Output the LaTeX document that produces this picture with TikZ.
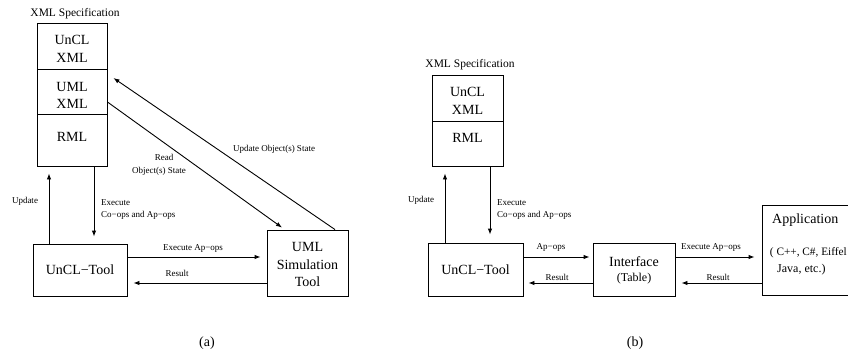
\documentclass[tikz,border=0pt]{standalone}
\usepackage{fontspec}
\setmainfont{Liberation Serif}
\usetikzlibrary{arrows.meta}
\begin{document}
\begin{tikzpicture}[x=1pt,y=-1pt,
  box/.style={draw,line width=0.9pt,rectangle,inner sep=0pt},
  big/.style={font=\fontsize{14}{17.5}\selectfont,align=center,inner sep=0pt},
  mid/.style={font=\fontsize{11.5}{14}\selectfont,inner sep=0pt},
  med/.style={font=\fontsize{12}{14}\selectfont,inner sep=0pt},
  lbl/.style={font=\fontsize{9}{11}\selectfont,inner sep=0pt},
  arr/.style={line width=0.9pt,-{Latex[length=6pt,width=4.5pt]}},
  ln/.style={line width=0.9pt}]
\clip (0,0) rectangle (848,353);
% ---------------- (a) ----------------
\node[mid] (xmla) at (75,14) {XML Specification};
\node[box,minimum width=70,minimum height=46] (uncla) at (72,46) {};
\node[box,minimum width=70,minimum height=45] (umla) at (72,91.5) {};
\node[box,minimum width=70,minimum height=52] (rmla) at (72,140) {};
\node[big] (uncltxta) at (72,49) {UnCL\\XML};
\node[big] (umltxta) at (72,95.5) {UML\\XML};
\node[big] (rmltxta) at (72,137) {RML};
\node[box,minimum width=94,minimum height=52] (toola) at (80,270) {};
\node[big] (tooltxta) at (80,270) {UnCL−Tool};
\node[box,minimum width=81,minimum height=66] (sima) at (307.5,263) {};
\node[big] (simtxta) at (307.5,264.5) {UML\\Simulation\\Tool};
% connectors
\draw[arr] ([xshift=-31pt]toola.north) -- ([xshift=-23pt,yshift=-7pt]rmla.south);
\draw[arr] ([xshift=22pt]rmla.south) -- ([xshift=14pt,yshift=7pt]toola.north);
\draw[arr] ([yshift=13pt]toola.east) -- ([xshift=-6pt,yshift=6pt]sima.west);
\draw[arr] ([yshift=-20pt]sima.west) -- ([xshift=6pt,yshift=-13pt]toola.east);
\draw[arr] ([yshift=-10.5pt]umla.east) -- ([xshift=-25.5pt,yshift=2pt]sima.north);
\draw[arr] ([xshift=27.5pt]sima.north) -- ([xshift=6pt,yshift=13.5pt]umla.east);
% labels
\node[lbl] (lupda) at (25,201) {Update};
\node[lbl,anchor=west] (lexea) at (101,203) {Execute};
\node[lbl,anchor=west] (lcoa) at (101,215) {Co−ops and Ap−ops};
\node[lbl] (lreada) at (164,157) {Read};
\node[lbl] (lobja) at (159,171) {Object(s) State};
\node[lbl] (luobja) at (274,149) {Update Object(s) State};
\node[lbl] (lexapa) at (193,248) {Execute Ap−ops};
\node[lbl] (lresa) at (177,273) {Result};
\node[big] (capa) at (207,343) {(a)};
% ---------------- (b) ----------------
\node[mid] (xmlb) at (470,65) {XML Specification};
\node[box,minimum width=71,minimum height=46] (unclb) at (467.5,98) {};
\node[box,minimum width=71,minimum height=45] (rmlb) at (467.5,143.5) {};
\node[big] (uncltxtb) at (467.5,101) {UnCL\\XML};
\node[big] (rmltxtb) at (467.5,137.5) {RML};
\node[box,minimum width=95,minimum height=53] (toolb) at (475.5,269.5) {};
\node[big] (tooltxtb) at (475.5,270) {UnCL−Tool};
\node[box,minimum width=82,minimum height=53] (intf) at (634,269.5) {};
\node[big] (intftxt) at (634,262) {Interface};
\node[med] (tabtxt) at (634,279) {(Table)};
\node[box,minimum width=110,minimum height=90] (app) at (817,250) {};
\node[big,anchor=west] (apptxt) at (772,220) {Application};
\node[font=\fontsize{11.3}{14}\selectfont,inner sep=0pt,anchor=east] (langtxt) at (847,253) {( C++, C\#, Eiffel};
\node[med,anchor=west] (javatxt) at (777,270) {Java, etc.)};
% connectors
\draw[arr] ([xshift=-30.5pt]toolb.north) -- ([xshift=-22.5pt,yshift=-7pt]rmlb.south);
\draw[arr] ([xshift=22.5pt]rmlb.south) -- ([xshift=14.5pt,yshift=8pt]toolb.north);
\draw[arr] ([yshift=12.5pt]toolb.east) -- ([xshift=-3pt,yshift=12.5pt]intf.west);
\draw[arr] ([yshift=-13.5pt]intf.west) -- ([xshift=5pt,yshift=-13.5pt]toolb.east);
\draw[arr] ([yshift=12.5pt]intf.east) -- ([xshift=-7pt,yshift=-7pt]app.west);
\draw[arr] ([yshift=-33pt]app.west) -- ([xshift=6pt,yshift=-13.5pt]intf.east);
% labels
\node[lbl] (lupdb) at (421,200) {Update};
\node[lbl,anchor=west] (lexeb) at (497,203) {Execute};
\node[lbl,anchor=west] (lcob) at (497,215) {Co−ops and Ap−ops};
\node[lbl] (lapb) at (551,247) {Ap−ops};
\node[lbl] (lresb) at (557,277) {Result};
\node[lbl] (lexapb) at (711,247) {Execute Ap−ops};
\node[lbl] (lresb2) at (718,277) {Result};
\node[big] (capb) at (635,343) {(b)};
\end{tikzpicture}
\end{document}
